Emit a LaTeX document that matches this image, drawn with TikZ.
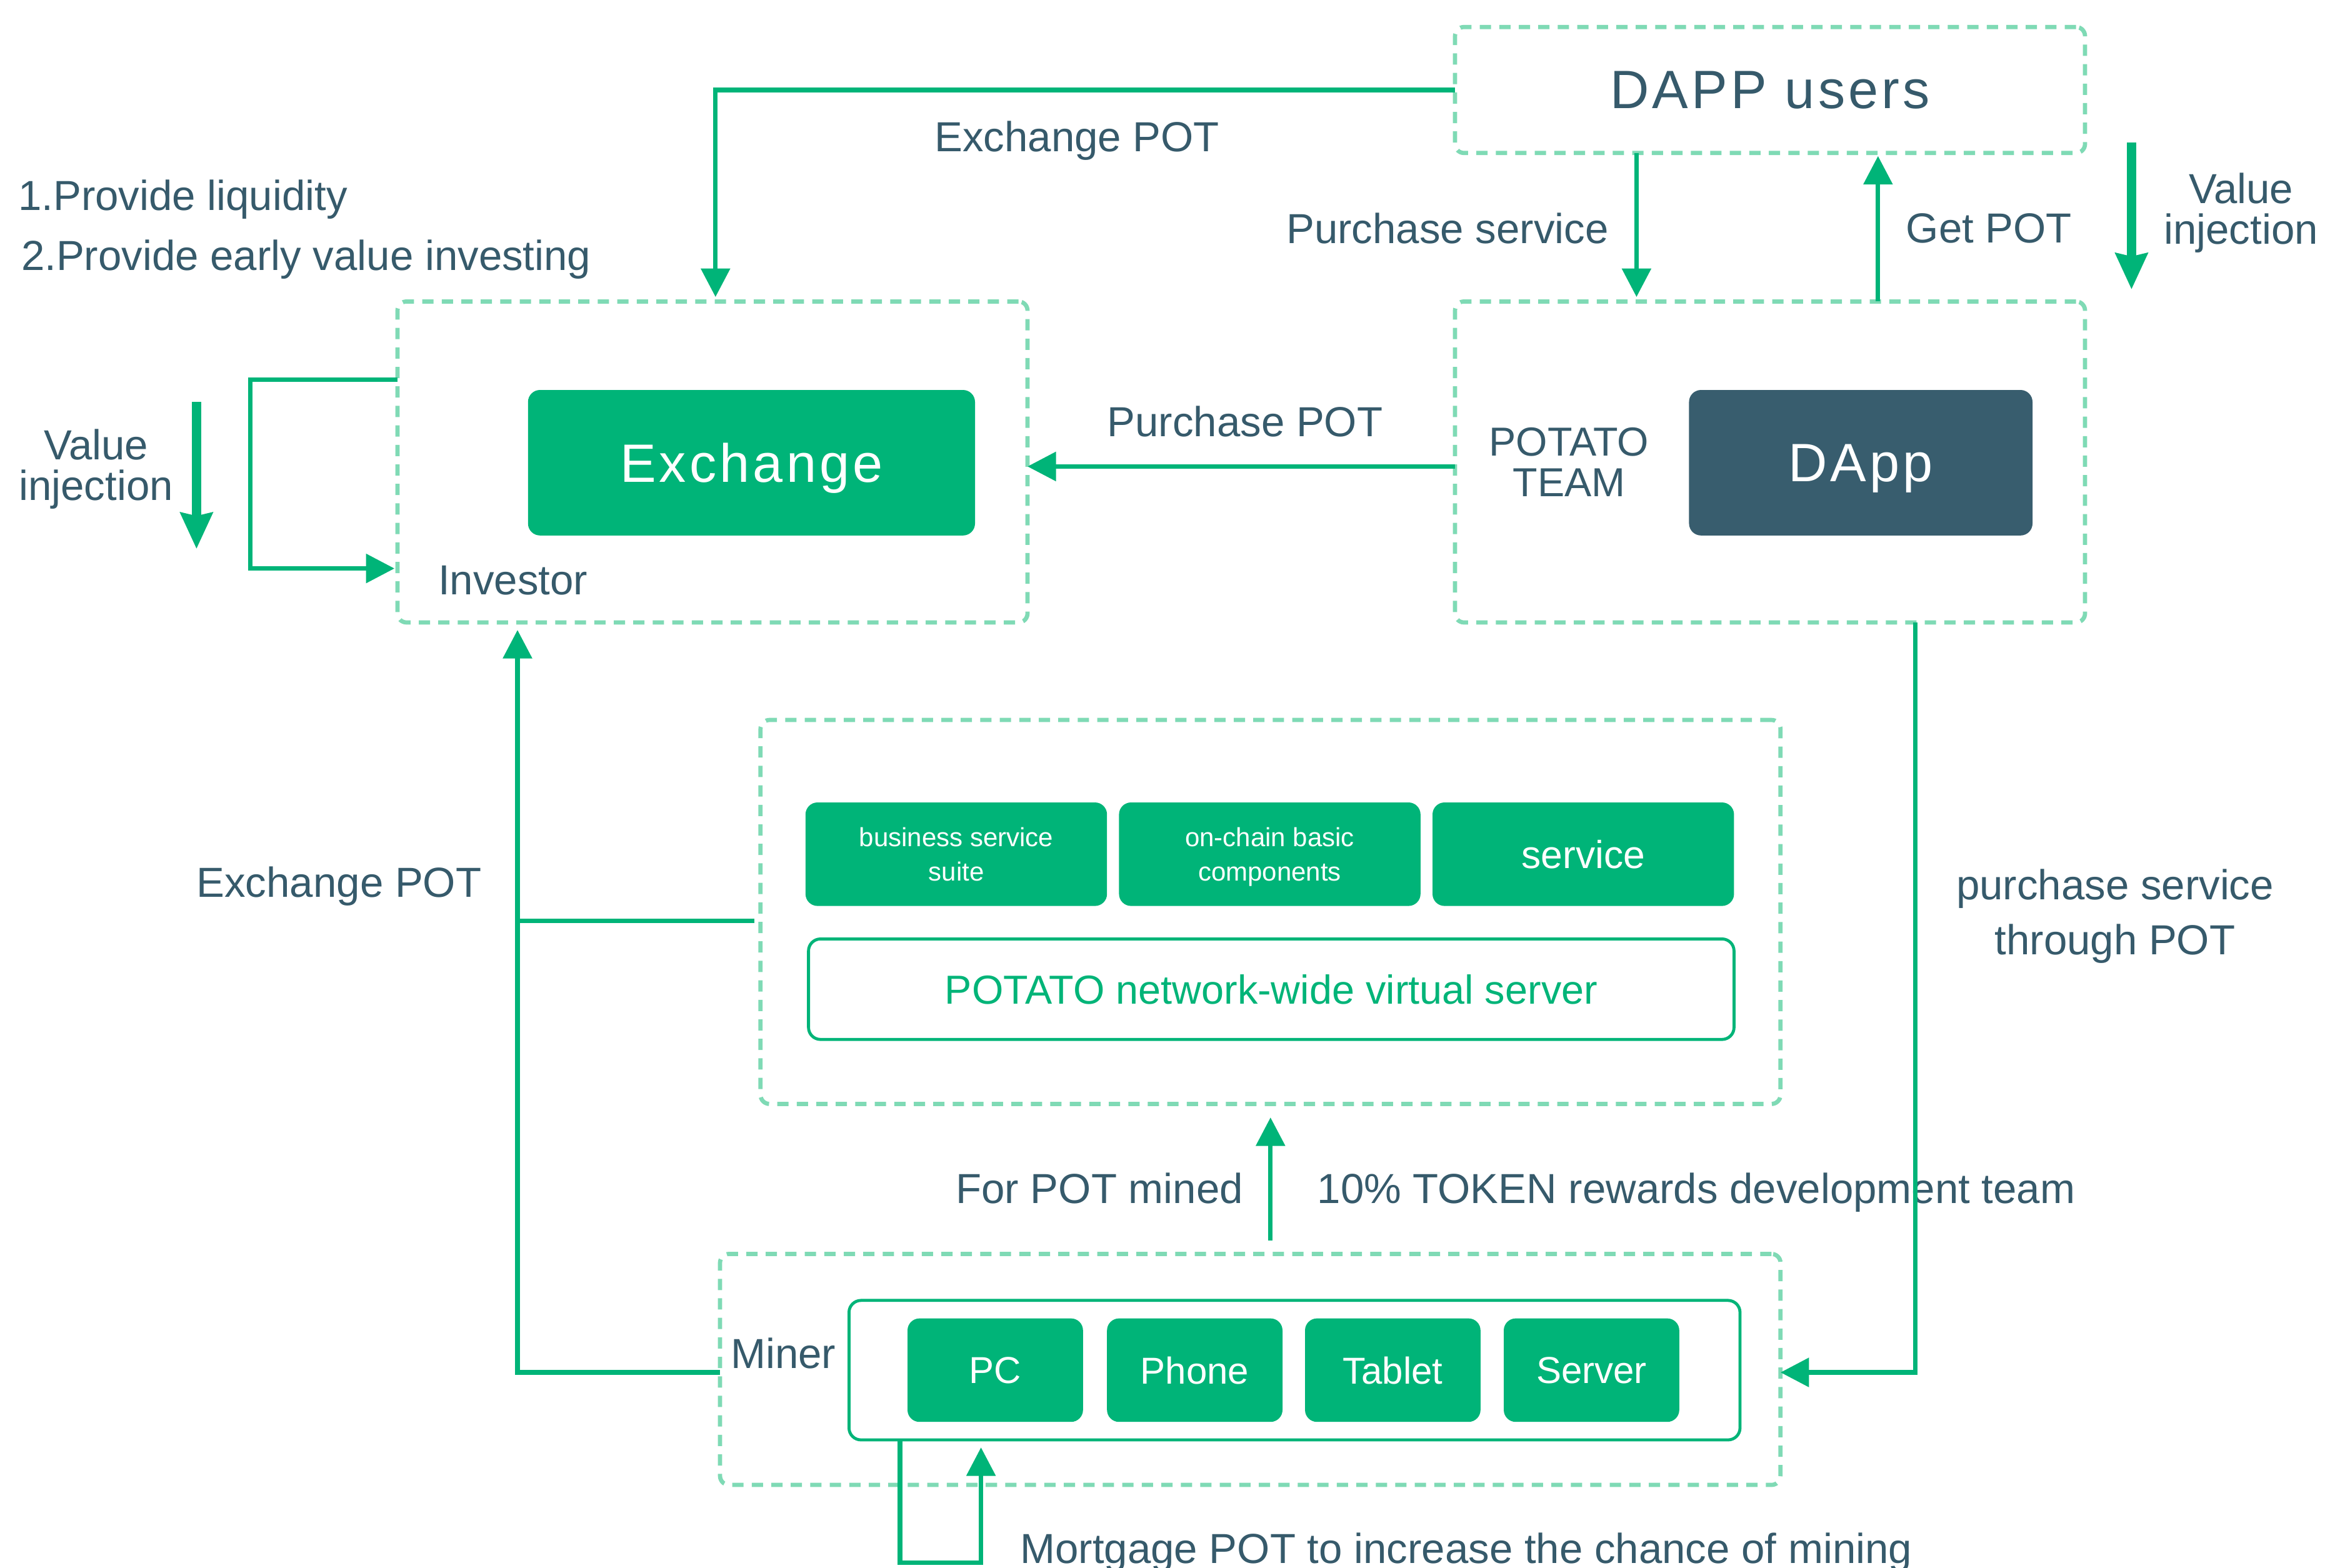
\documentclass[tikz,border=0pt]{standalone}
\usepackage{fontspec}
\setmainfont{Liberation Sans}
\newfontfamily\spacedfont[LetterSpace=6]{Liberation Sans}
\usetikzlibrary{arrows.meta}
\definecolor{pgreen}{HTML}{00B478}
\definecolor{pdash}{HTML}{7FDAB5}
\definecolor{ptext}{HTML}{365A6B}
\definecolor{pdark}{HTML}{385D6E}
\newcommand\myL{\fontsize{28}{27}\selectfont}
\begin{document}
\begin{tikzpicture}[x=1pt,y=-1pt,
  dbox/.style={draw=pdash, line width=2.8pt, dash pattern=on 7.5pt off 5.5pt,
    rounded corners=6pt, inner sep=0pt, outer sep=0pt},
  gbox/.style={fill=pgreen, rounded corners=8pt, text=white, inner sep=0pt,
    outer sep=0pt, align=center, text depth=0pt},
  obox/.style={draw=pgreen, line width=2pt, rounded corners=8pt, inner sep=0pt,
    outer sep=0pt, align=center, text depth=0pt},
  conn/.style={draw=pgreen, line width=3pt, -{Triangle[length=19pt,width=19pt]}},
  plainline/.style={draw=pgreen, line width=3pt},
  thickarr/.style={draw=pgreen, line width=6pt, -{Stealth[length=24pt,width=21pt,inset=2pt]}},
  lbl/.style={text=ptext, font=\myL, inner sep=0pt, align=center, text depth=0pt},
  bigtxt/.style={font=\spacedfont\fontsize{36}{40}\selectfont, text depth=0pt}
]
\fill[white] (0,0) rectangle (1560,1045);
\path[use as bounding box] (0,0) rectangle (1560,1045);

% containers
\node[dbox, minimum width=420pt, minimum height=84pt, text=ptext, bigtxt] (users) at (1180,60) {DAPP users};
\node[dbox, minimum width=420pt, minimum height=214pt] (inv) at (475,308) {};
\node[dbox, minimum width=420pt, minimum height=214pt] (team) at (1180,308) {};
\node[dbox, minimum width=680pt, minimum height=256pt] (mid) at (847,608) {};
\node[dbox, minimum width=707pt, minimum height=154pt] (miner) at (833.5,913) {};

% main boxes
\node[gbox, bigtxt, minimum width=298pt, minimum height=97pt] (exch) at (501,308.5) {Exchange};
\node[gbox, bigtxt, fill=pdark, minimum width=229pt, minimum height=97pt] (dapp) at (1240.5,308.5) {DApp};

% middle layer
\node[gbox, minimum width=201pt, minimum height=69pt, font=\fontsize{17.5}{23}\selectfont] (b1) at (637.5,569.5) {business service\\suite};
\node[gbox, minimum width=201pt, minimum height=69pt, font=\fontsize{17.5}{23}\selectfont] (b2) at (846.5,569.5) {on-chain basic\\components};
\node[gbox, minimum width=201pt, minimum height=69pt, font=\fontsize{26}{30}\selectfont] (b3) at (1055.5,569.5) {service};
\node[obox, minimum width=617pt, minimum height=67pt, text=pgreen, font=\fontsize{27}{30}\selectfont] (vs) at (847.5,659.5) {POTATO network-wide virtual server};

% miners
\node[obox, minimum width=594pt, minimum height=93pt] (inner) at (863,913.5) {};
\node[gbox, minimum width=117pt, minimum height=69pt, font=\fontsize{25}{28}\selectfont] (pc) at (663.5,913.5) {PC};
\node[gbox, minimum width=117pt, minimum height=69pt, font=\fontsize{25}{28}\selectfont] (phone) at (796.5,913.5) {Phone};
\node[gbox, minimum width=117pt, minimum height=69pt, font=\fontsize{25}{28}\selectfont] (tablet) at (928.5,913.5) {Tablet};
\node[gbox, minimum width=117pt, minimum height=69pt, font=\fontsize{25}{28}\selectfont] (server) at (1061,913.5) {Server};

% labels
\node[lbl] (lExTop) at (718,91) {Exchange POT};
\node[lbl, anchor=west] (lLiq) at (12,130) {1.Provide liquidity};
\node[lbl, anchor=west] (lEarly) at (14,170) {2.Provide early value investing};
\node[lbl] (lViL) at (64,310) {Value\\injection};
\node[lbl, anchor=west] (lInv) at (292,387) {Investor};
\node[lbl] (lPP) at (830,281) {Purchase POT};
\node[lbl, font=\fontsize{27}{27}\selectfont] (lTeam) at (1046,308) {POTATO\\TEAM};
\node[lbl] (lPS) at (965,152) {Purchase service};
\node[lbl] (lGet) at (1326,152) {Get POT};
\node[lbl] (lViR) at (1494,139) {Value\\injection};
\node[lbl] (lExL) at (226,588) {Exchange POT};
\node[lbl, font=\fontsize{28}{37}\selectfont] (lPST) at (1410,608) {purchase service\\through POT};
\node[lbl] (lMined) at (733,792) {For POT mined};
\node[lbl, anchor=west] (lTok) at (878,792) {10\% TOKEN rewards development team};
\node[lbl, anchor=west] (lMiner) at (487,902) {Miner};
\node[lbl, anchor=west] (lMort) at (680,1032) {Mortgage POT to increase the chance of mining};

% free coordinates
\coordinate (viR1) at (1421,95);
\coordinate (viR2) at (1421,193);
\coordinate (viL1) at (131,268);
\coordinate (viL2) at (131,366);

% connectors
\draw[conn, shorten >=3pt] (users.west) -| ([xshift=2pt]inv.north);
\draw[conn, shorten >=3pt] ([xshift=-89pt]users.south) -- ([xshift=-89pt]team.north);
\draw[conn, shorten >=2pt] ([xshift=72pt]team.north) -- ([xshift=72pt]users.south);
\draw[thickarr] (viR1) -- (viR2);
\draw[thickarr] (viL1) -- (viL2);
\draw[conn] ([yshift=-3pt]team.west) -- ([yshift=-3pt]inv.east);
\draw[conn, shorten >=2pt] ([yshift=55pt]inv.west) -- ++(-98,0) |- ([yshift=-71pt]inv.west);
\draw[conn, shorten >=5pt] ([yshift=-2pt]miner.west) -| ([xshift=-130pt]inv.south);
\draw[plainline] ([yshift=-6pt,xshift=-4pt]mid.west) -- ++(-158,0);
\draw[conn] ([xshift=97pt]team.south) |- ([yshift=-2pt]miner.east);
\draw[conn, shorten <=9pt, shorten >=9pt] ([xshift=13.5pt]miner.north) -- (mid.south);
\draw[conn, shorten >=5pt] ([xshift=-263pt]inner.south) -- ++(0,82) -| ([xshift=-209pt]inner.south);
\end{tikzpicture}
\end{document}
